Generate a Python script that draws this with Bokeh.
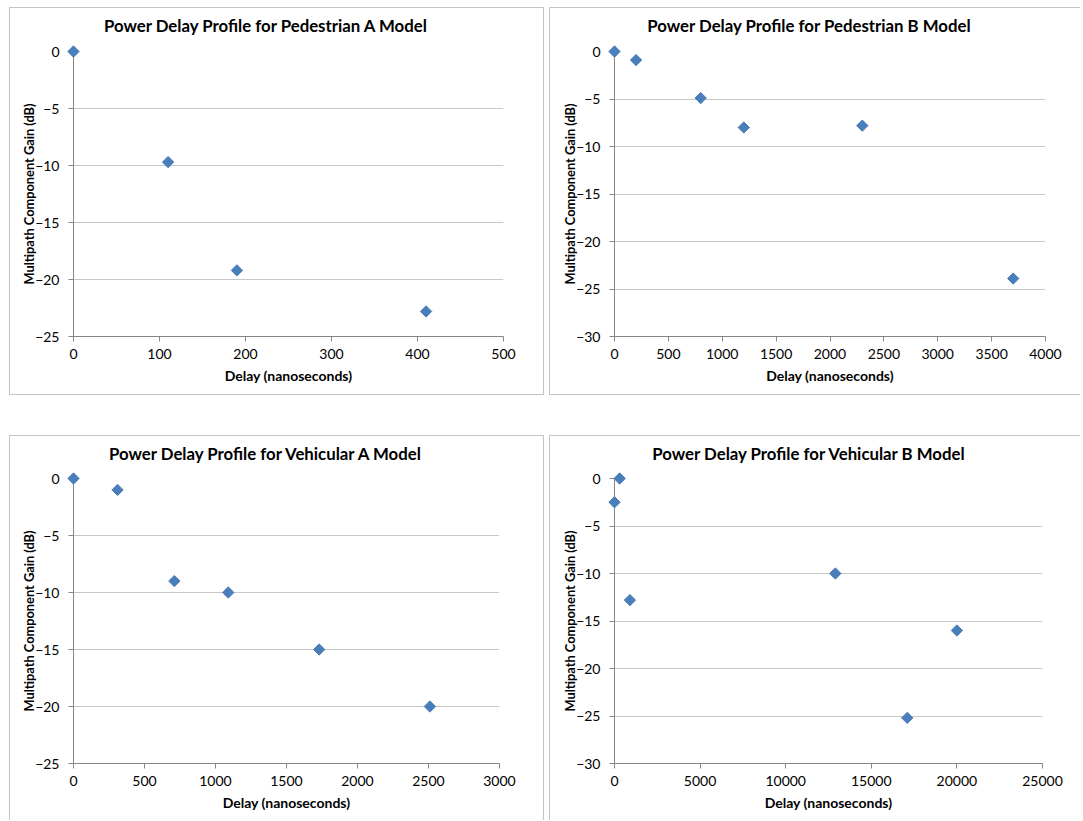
import math
from bokeh.plotting import figure
from bokeh.layouts import column, row
from bokeh.models import Spacer, Range1d, FixedTicker
from bokeh.core.properties import value
from bokeh.embed import file_html
from bokeh.resources import INLINE

# ---- data ----
ped_a_delay = [0, 110, 190, 410]
ped_a_gain = [0, -9.7, -19.2, -22.8]
ped_b_delay = [0, 200, 800, 1200, 2300, 3700]
ped_b_gain = [0, -0.9, -4.9, -8.0, -7.8, -23.9]
veh_a_delay = [0, 310, 710, 1090, 1730, 2510]
veh_a_gain = [0, -1, -9, -10, -15, -20]
veh_b_delay = [0, 300, 900, 12900, 17100, 20000]
veh_b_gain = [-2.5, 0, -12.8, -10.0, -25.2, -16.0]

ped_a_xticks = [0, 100, 200, 300, 400, 500]
ped_b_xticks = [0, 500, 1000, 1500, 2000, 2500, 3000, 3500, 4000]
veh_a_xticks = [0, 500, 1000, 1500, 2000, 2500, 3000]
veh_b_xticks = [0, 5000, 10000, 15000, 20000, 25000]
yticks_25 = [-25, -20, -15, -10, -5, 0]
yticks_30 = [-30, -25, -20, -15, -10, -5, 0]

titles = ["Power Delay Profile for Pedestrian A Model",
          "Power Delay Profile for Pedestrian B Model",
          "Power Delay Profile for Vehicular A Model",
          "Power Delay Profile for Vehicular B Model"]
x_label = "Delay (nanoseconds)"
y_label = "Multipath Component Gain (dB)"

FONT = "Lato"
BORDER = "1px solid #c4c4c4"


def make(title, xs, ys, xticks, yticks, w, h, bl, br, bt, bb, title_x, title_top, styles):
    p = figure(width=w, height=h, output_backend="svg", toolbar_location=None,
               x_range=Range1d(xticks[0], xticks[-1]),
               y_range=Range1d(yticks[0], yticks[-1]),
               min_border_left=bl, min_border_right=br,
               min_border_top=bt, min_border_bottom=bb,
               background_fill_color="white", border_fill_color="white",
               outline_line_color=None, styles=styles)
    frame_w = w - bl - br
    # chart title, anchored at the top centre of the frame and shifted in pixels
    p.text(x=[(xticks[0] + xticks[-1]) / 2], y=[yticks[-1]], text=[title],
           x_offset=title_x - (bl + frame_w / 2), y_offset=-(bt - title_top),
           text_font=value(FONT), text_font_size="16.8px", text_font_style="bold",
           text_color="#000000", text_align="center", text_baseline="middle",
           level="overlay")

    for ax in (p.xaxis[0], p.yaxis[0]):
        ax.axis_line_color = "#868686"
        ax.major_tick_line_color = "#868686"
        ax.major_tick_out = 5
        ax.major_tick_in = 0
        ax.minor_tick_line_color = None
        ax.major_label_text_font = FONT
        ax.major_label_text_font_size = "14px"
        ax.major_label_text_color = "#000000"
        ax.axis_label_text_font = FONT
        ax.axis_label_text_font_style = "bold"
        ax.axis_label_text_color = "#000000"
    p.xaxis.axis_label_text_font_size = "14px"
    p.yaxis.axis_label_text_font_size = "12.8px"

    p.xaxis.ticker = FixedTicker(ticks=xticks)
    p.yaxis.ticker = FixedTicker(ticks=yticks)
    p.xaxis.axis_label = x_label
    p.yaxis.axis_label = y_label
    p.xaxis.major_label_standoff = 7
    p.xaxis.axis_label_standoff = 5
    p.yaxis.major_label_standoff = 9
    p.yaxis.axis_label_standoff = -5

    p.xgrid.grid_line_color = None
    p.ygrid.grid_line_color = "#c8c8c8"
    p.ygrid.ticker = FixedTicker(ticks=yticks[1:])

    p.scatter(xs, ys, marker="square", angle=math.pi / 4, size=8,
              fill_color="#4a7ebb", line_color="#4a7ebb", level="overlay")
    return p


p1 = make(titles[0], ped_a_delay, ped_a_gain, ped_a_xticks, yticks_25,
          535, 388, 63, 42, 43, 60, 256, 17, {"border": BORDER})
p2 = make(titles[1], ped_b_delay, ped_b_gain, ped_b_xticks, yticks_30,
          531, 388, 64, 36, 43, 60, 259, 17,
          {"border-left": BORDER, "border-top": BORDER, "border-bottom": BORDER})
p3 = make(titles[2], veh_a_delay, veh_a_gain, veh_a_xticks, yticks_25,
          535, 385, 63, 46, 42, 58, 256, 17,
          {"border-left": BORDER, "border-top": BORDER, "border-right": BORDER})
p4 = make(titles[3], veh_b_delay, veh_b_gain, veh_b_xticks, yticks_30,
          531, 385, 64, 39, 42, 58, 259, 17,
          {"border-left": BORDER, "border-top": BORDER})

layout = column(
    Spacer(width=1083, height=7),
    row(Spacer(width=9, height=390), p1, Spacer(width=5, height=390), p2),
    Spacer(width=1083, height=38),
    row(Spacer(width=9, height=386), p3, Spacer(width=5, height=386), p4),
    spacing=0,
)

open("out.html", "w").write(file_html(layout, INLINE))
